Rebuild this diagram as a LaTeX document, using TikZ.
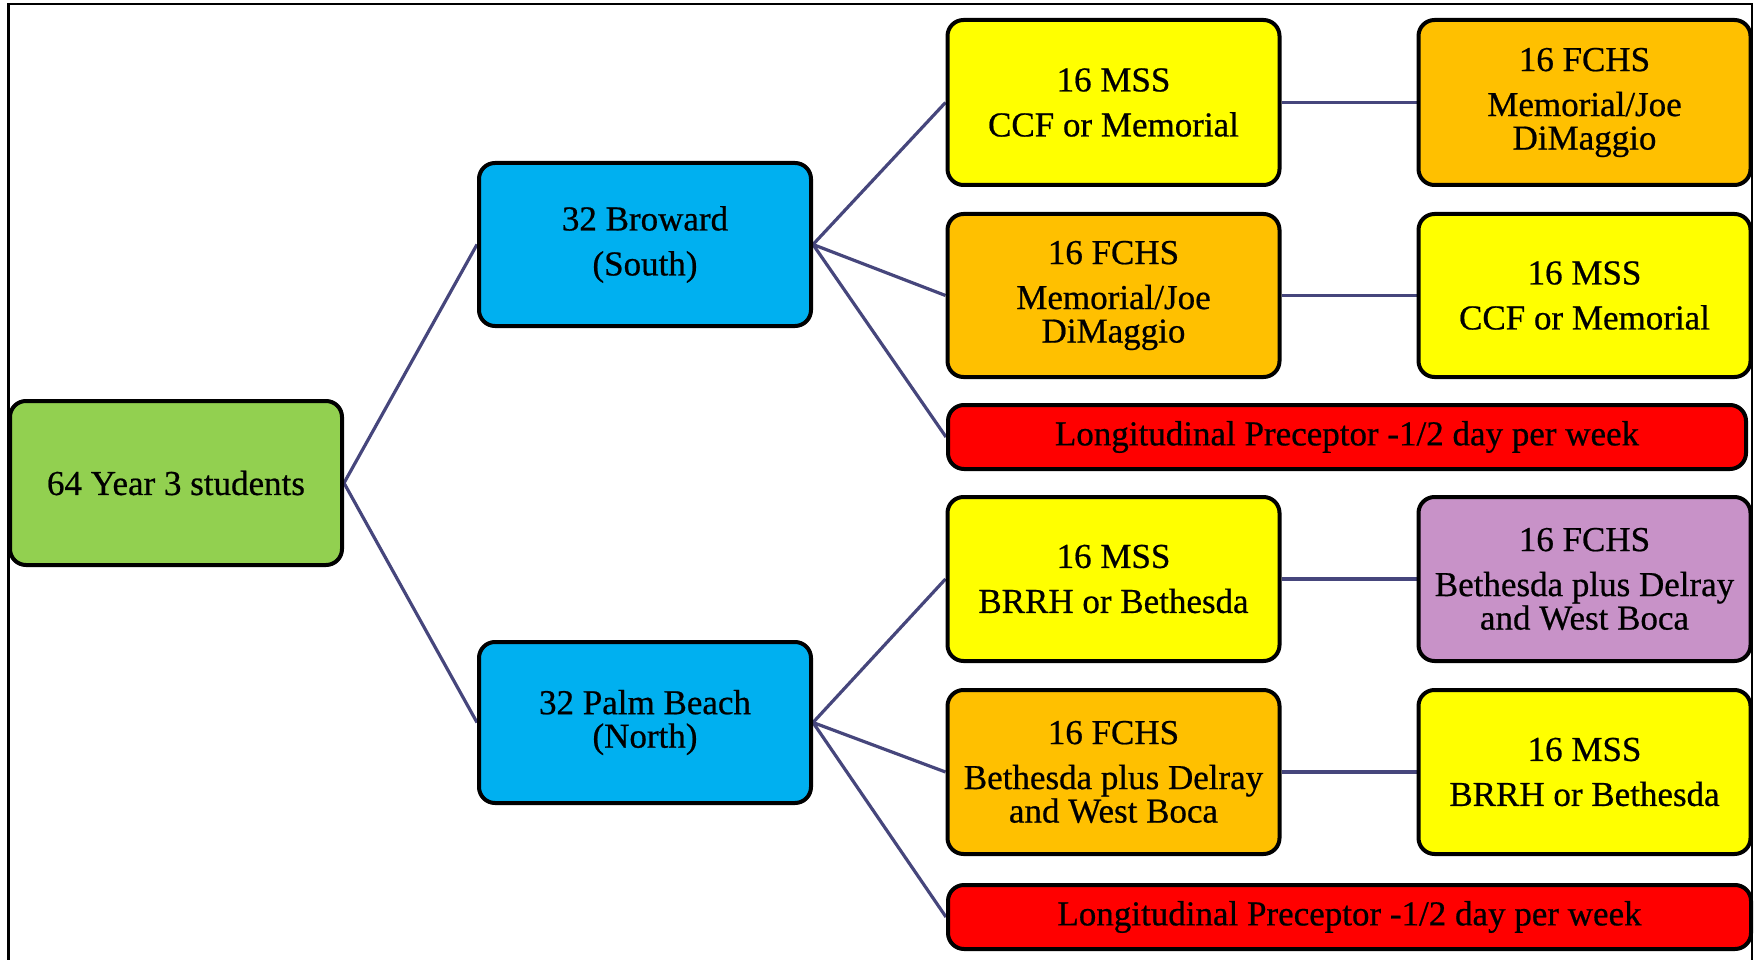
\documentclass[tikz,border=0pt]{standalone}
\usepackage{fontspec}
\setmainfont{Liberation Serif}[FakeBold=0.6]
\usetikzlibrary{backgrounds}
\definecolor{cgreen}{RGB}{146,208,80}
\definecolor{cblue}{RGB}{0,176,240}
\definecolor{cyellow}{RGB}{255,255,0}
\definecolor{corange}{RGB}{255,192,0}
\definecolor{cpurple}{RGB}{200,146,200}
\definecolor{cred}{RGB}{255,0,0}
\definecolor{cline}{RGB}{70,70,124}
\tikzset{
  box/.style={draw=black, line width=4pt, rounded corners=16pt, inner sep=0pt,
    minimum width=332pt, minimum height=164pt, align=center,
    font=\fontsize{35}{33.5}\selectfont},
  bar/.style={box, minimum height=64pt},
  conn/.style={draw=cline, line width=3.2pt}
}
\newcommand{\pg}{\\[11.5pt]}
\begin{document}
\begin{tikzpicture}[x=1pt,y=-1pt]
\useasboundingbox (0,0) rectangle (1756,960);
\draw[line width=2.2pt] (8.5,962) -- (8.5,4) -- (1752,4) -- (1752,962);
\node[box, fill=cgreen] (root) at (176,483) {64 Year 3 students};
\node[box, fill=cblue, minimum height=163pt] (brow) at (645,244.5) {32 Broward\pg(South)};
\node[box, fill=cblue, minimum height=161pt] (palm) at (645,722.5) {32 Palm Beach\\(North)};
\node[box, fill=cyellow, minimum height=165pt] (a1) at (1113.5,102.5) {16 MSS\pg CCF or Memorial};
\node[box, fill=corange, minimum height=165pt] (b1) at (1584.5,102.5) {16 FCHS\pg Memorial/Joe\\DiMaggio};
\node[box, fill=corange, minimum height=163pt] (a2) at (1113.5,295.5) {16 FCHS\pg Memorial/Joe\\DiMaggio};
\node[box, fill=cyellow, minimum height=163pt] (b2) at (1584.5,295.5) {16 MSS\pg CCF or Memorial};
\node[bar, fill=cred, minimum width=798pt] (r1) at (1347,437) {Longitudinal Preceptor -1/2 day per week};
\node[box, fill=cyellow] (a4) at (1113.5,579) {16 MSS\pg BRRH or Bethesda};
\node[box, fill=cpurple] (b4) at (1584.5,579) {16 FCHS\pg Bethesda plus Delray\\and West Boca};
\node[box, fill=corange] (a5) at (1113.5,772) {16 FCHS\pg Bethesda plus Delray\\and West Boca};
\node[box, fill=cyellow] (b5) at (1584.5,772) {16 MSS\pg BRRH or Bethesda};
\node[bar, fill=cred, minimum width=803pt] (r2) at (1349.5,917) {Longitudinal Preceptor -1/2 day per week};
\begin{scope}[on background layer]
\draw[conn] (root.east) -- (brow.west);
\draw[conn] (root.east) -- (palm.west);
\draw[conn] (brow.east) -- (a1.west);
\draw[conn] (brow.east) -- (a2.west);
\draw[conn] (brow.east) -- (r1.west);
\draw[conn] (palm.east) -- (a4.west);
\draw[conn] (palm.east) -- (a5.west);
\draw[conn] (palm.east) -- (r2.west);
\draw[conn] (a1.east) -- (b1.west);
\draw[conn] (a2.east) -- (b2.west);
\draw[conn] (a4.east) -- (b4.west);
\draw[conn] (a5.east) -- (b5.west);
\end{scope}
\end{tikzpicture}
\end{document}
